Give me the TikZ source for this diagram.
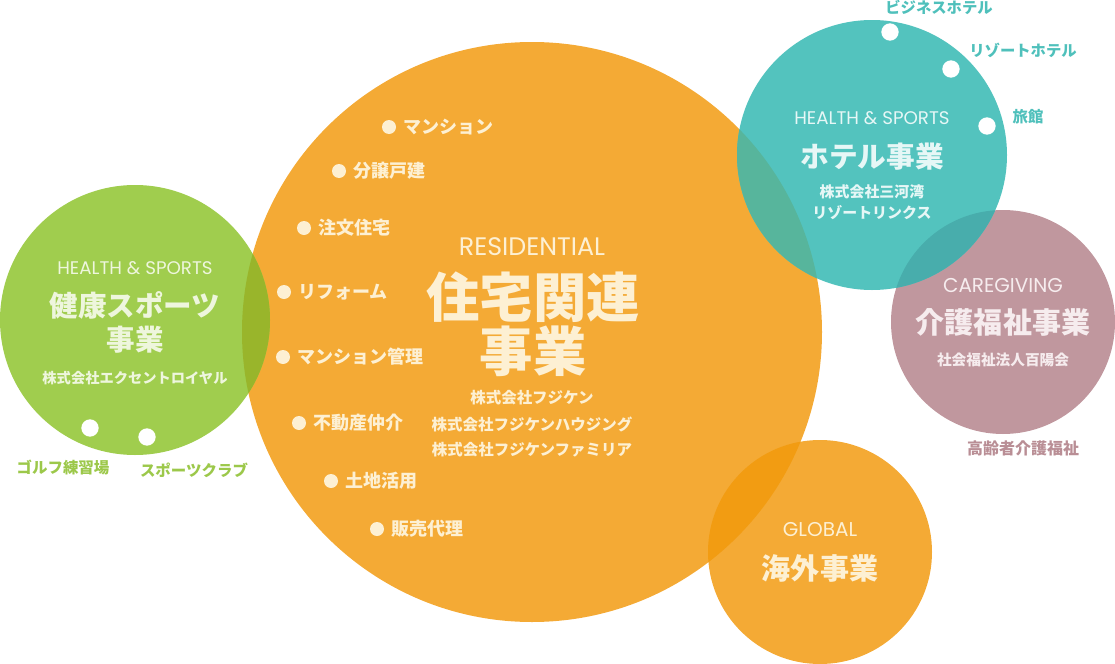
\documentclass[tikz,border=0pt]{standalone}
\usepackage{fontspec}
\setmainfont{Noto Sans CJK JP}
\newfontfamily\jp{Noto Sans CJK JP}
\newfontfamily\en{Poppins}
\definecolor{cOr}{HTML}{F4AA35}
\definecolor{cGr}{HTML}{A0CD4E}
\definecolor{cTe}{HTML}{53C3BE}
\definecolor{cMa}{HTML}{C0979E}
\definecolor{cOrGr}{HTML}{99B52B}
\definecolor{cOrTe}{HTML}{57B59C}
\definecolor{cTeMa}{HTML}{48ADAC}
\definecolor{cOrOr}{HTML}{F29C12}
\definecolor{tOr}{HTML}{FDF0D3}
\definecolor{tGr}{HTML}{EEF6DD}
\definecolor{tTe}{HTML}{E6F7F6}
\definecolor{tMa}{HTML}{F6ECEE}
\definecolor{lGr}{HTML}{9CC84A}
\definecolor{lTe}{HTML}{4FC0BB}
\definecolor{lMa}{HTML}{B98E95}
\tikzset{
  eng/.style={font=\en\fontsize{#1}{#1}\selectfont, inner sep=0pt, anchor=center},
  ttl/.style={font=\jp\bfseries\fontsize{#1}{#1}\selectfont, inner sep=0pt, anchor=center},
  sml/.style={font=\jp\bfseries\fontsize{#1}{#1}\selectfont, inner sep=0pt, anchor=center},
  item/.style={font=\jp\bfseries\fontsize{13.5}{13.5}\selectfont, inner sep=0pt, anchor=west, text=tOr},
  bul/.style={circle, fill=tOr, minimum size=10.5, inner sep=0pt},
  wdot/.style={circle, fill=white, minimum size=13, inner sep=0pt},
}
\begin{document}
\begin{tikzpicture}[x=0.75pt,y=-0.75pt]
\useasboundingbox (0,0) rectangle (1115,664);
% circles
\coordinate (O) at (532,332);
\coordinate (G) at (135,320);
\coordinate (T) at (872,155);
\coordinate (M) at (1003,322);
\coordinate (S) at (820,552);
\fill[cOr] (O) circle (290);
\fill[cGr] (G) circle (135);
\fill[cOr] (S) circle (112);
\fill[cMa] (M) circle (112);
\fill[cTe] (T) circle (135);
\begin{scope}\clip (O) circle (290); \fill[cOrGr] (G) circle (135);\end{scope}
\begin{scope}\clip (O) circle (290); \fill[cOrOr] (S) circle (112);\end{scope}
\begin{scope}\clip (O) circle (290); \fill[cOrTe] (T) circle (135);\end{scope}
\begin{scope}\clip (M) circle (112); \fill[cTeMa] (T) circle (135);\end{scope}

% residential
\node[eng=19, text=tOr] (resE) at (532,247) {RESIDENTIAL};
\node[ttl=40, text=tOr] (resT1) at (533,297) {住宅関連};
\node[ttl=40, text=tOr] (resT2) at (533,351) {事業};
\node[sml=11.6, text=tOr] (resC1) at (532,398) {株式会社フジケン};
\node[sml=11.6, text=tOr] (resC2) at (532,424) {株式会社フジケンハウジング};
\node[sml=11.6, text=tOr] (resC3) at (532,450) {株式会社フジケンファミリア};
% bullet items
\node[bul] (b1) at (389,127) {}; \node[item] (i1) at (403,127) {マンション};
\node[bul] (b2) at (339,171) {}; \node[item] (i2) at (353,171) {分譲戸建};
\node[bul] (b3) at (304,228) {}; \node[item] (i3) at (318,228) {注文住宅};
\node[bul] (b4) at (284,292) {}; \node[item] (i4) at (298,292) {リフォーム};
\node[bul] (b5) at (283,357) {}; \node[item] (i5) at (297,357) {マンション管理};
\node[bul] (b6) at (299,423) {}; \node[item] (i6) at (313,423) {不動産仲介};
\node[bul] (b7) at (331,481) {}; \node[item] (i7) at (345,481) {土地活用};
\node[bul] (b8) at (377,529) {}; \node[item] (i8) at (391,529) {販売代理};

% health & sports
\node[eng=13.7, text=tGr] (hsE) at (135,268) {HEALTH \& SPORTS};
\node[ttl=21.4, text=tGr] (hsT1) at (135,305) {健康スポーツ};
\node[ttl=21.4, text=tGr] (hsT2) at (135,340) {事業};
\node[sml=10.7, text=tGr] (hsC) at (135,378) {株式会社エクセントロイヤル};
\node[wdot] (gd1) at (90,428) {};
\node[wdot] (gd2) at (147,437) {};
\node[sml=11.6, text=lGr] (gl1) at (63,467) {ゴルフ練習場};
\node[sml=11.6, text=lGr] (gl2) at (194,470) {スポーツクラブ};

% hotel
\node[eng=13.7, text=tTe] (htE) at (872,118) {HEALTH \& SPORTS};
\node[ttl=21.5, text=tTe] (htT) at (872,157) {ホテル事業};
\node[sml=11.2, text=tTe] (htC1) at (872,192) {株式会社三河湾};
\node[sml=11.2, text=tTe] (htC2) at (872,213) {リゾートリンクス};
\node[wdot] (td1) at (890,32) {};
\node[wdot] (td2) at (951,69) {};
\node[wdot] (td3) at (987,126) {};
\node[sml=11.5, text=lTe] (tl1) at (939,7) {ビジネスホテル};
\node[sml=11.5, text=lTe] (tl2) at (1023,50) {リゾートホテル};
\node[sml=11.5, text=lTe] (tl3) at (1028,117) {旅館};

% caregiving
\node[eng=15, text=tMa] (cgE) at (1003,285) {CAREGIVING};
\node[ttl=21.8, text=tMa] (cgT) at (1003,322) {介護福祉事業};
\node[sml=11, text=tMa] (cgC) at (1003,360) {社会福祉法人百陽会};
\node[sml=12, text=lMa] (cgL) at (1023,448) {高齢者介護福祉};

% global
\node[eng=15, text=tOr] (glE) at (820,530) {GLOBAL};
\node[ttl=21.8, text=tOr] (glT) at (820,568) {海外事業};
\end{tikzpicture}
\end{document}
